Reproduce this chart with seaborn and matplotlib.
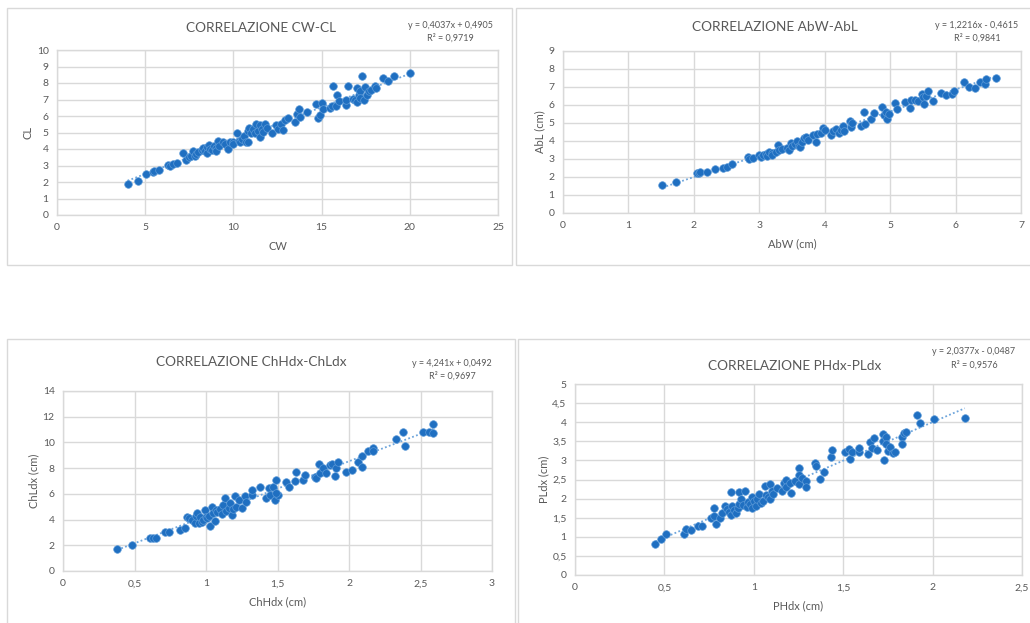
import matplotlib
matplotlib.use("Agg")
import matplotlib.pyplot as plt
from matplotlib.patches import Rectangle
from matplotlib.ticker import FuncFormatter, MultipleLocator
import seaborn as sns
import pandas as pd

# --- data ---
cw = [4.0, 4.6, 5.05, 5.45, 5.5, 5.8, 6.3, 6.4, 6.6, 6.8, 7.15, 7.3, 7.5, 7.6, 7.7, 7.8,
      7.9, 8.0, 8.2, 8.3, 8.4, 8.5, 8.5, 8.6, 8.7, 8.8, 8.9, 9.0, 9.0, 9.1, 9.2, 9.4,
      9.5, 9.7, 9.8, 10.0, 10.0, 10.2, 10.3, 10.4, 10.5, 10.6, 10.7, 10.8, 10.8, 10.9, 11.0, 11.1,
      11.2, 11.3, 11.4, 11.5, 11.5, 11.6, 11.7, 11.8, 11.9, 12.2, 12.4, 12.5, 12.7, 12.8,
      12.9, 13.1, 13.5, 13.6, 13.7, 13.8, 14.2, 14.7, 14.8, 14.9, 15.05, 15.1, 15.5, 15.6,
      15.65, 15.8, 15.85, 16.0, 16.4, 16.4, 16.5, 16.8, 16.9, 17.0, 17.0, 17.1, 17.2, 17.2,
      17.3, 17.4, 17.45, 17.6, 17.7, 17.8, 18.0, 18.1, 18.5, 18.75, 19.1, 20.0]
cl = [1.9, 2.05, 2.5, 2.6, 2.65, 2.75, 3.05, 2.95, 3.1, 3.15, 3.75, 3.35, 3.5, 3.6, 3.85, 3.55,
      3.7, 3.8, 3.95, 4.05, 3.9, 4.1, 3.75, 4.25, 4.0, 3.95, 4.2, 4.05, 3.85, 4.5, 4.2, 4.45,
      4.3, 4.0, 4.4, 4.45, 4.3, 4.95, 4.5, 4.45, 4.6, 4.8, 4.4, 4.45, 5.1, 5.3, 4.95, 5.2,
      5.0, 5.5, 5.1, 5.45, 4.7, 5.2, 5.05, 5.5, 5.3, 4.95, 5.45, 5.2, 5.5, 5.15,
      5.75, 5.9, 5.65, 6.1, 6.45, 5.95, 6.25, 6.75, 5.9, 6.05, 6.8, 6.4, 6.5, 6.6,
      7.8, 6.6, 7.25, 6.9, 6.65, 6.95, 7.8, 7.05, 7.0, 6.85, 7.7, 7.25, 7.5, 7.1,
      8.4, 7.0, 7.75, 7.3, 7.5, 7.6, 7.8, 7.7, 8.3, 8.1, 8.4, 8.6]

abw = [1.52, 1.73, 2.05, 2.08, 2.1, 2.2, 2.33, 2.45, 2.5, 2.58, 2.82, 2.85, 2.9, 3.0, 3.02, 3.05,
       3.1, 3.12, 3.15, 3.2, 3.2, 3.25, 3.28, 3.3, 3.35, 3.42, 3.45, 3.48, 3.5, 3.55, 3.58, 3.6,
       3.62, 3.65, 3.68, 3.72, 3.75, 3.82, 3.86, 3.88, 3.95, 3.98, 4.0, 4.1, 4.12, 4.18, 4.22, 4.25,
       4.28, 4.3, 4.38, 4.4, 4.42, 4.55, 4.6, 4.62, 4.7, 4.75, 4.88, 4.9, 4.93, 4.95, 4.98, 5.08,
       5.1, 5.22, 5.3, 5.32, 5.38, 5.42, 5.48, 5.5, 5.52, 5.55, 5.58, 5.65, 5.78, 5.85, 5.95, 5.97,
       6.13, 6.2, 6.3, 6.38, 6.45, 6.46, 6.62]
abl = [1.55, 1.72, 2.2, 2.25, 2.28, 2.3, 2.45, 2.5, 2.55, 2.75, 3.1, 3.0, 3.05, 3.25, 3.1, 3.2,
       3.3, 3.15, 3.4, 3.35, 3.25, 3.4, 3.8, 3.5, 3.55, 3.6, 3.5, 3.9, 3.7, 3.85, 4.0, 3.75,
       3.65, 3.95, 4.15, 4.25, 4.05, 4.35, 3.95, 4.4, 4.45, 4.7, 4.6, 4.35, 4.55, 4.65, 4.45, 4.6,
       4.85, 4.55, 5.1, 4.8, 5.0, 4.85, 5.6, 4.95, 5.2, 5.55, 5.9, 5.45, 5.6, 5.2, 5.5, 6.1,
       5.8, 6.15, 5.85, 6.3, 6.3, 6.2, 6.6, 6.45, 6.05, 6.5, 6.8, 6.25, 6.65, 6.55, 6.6, 6.8,
       7.3, 7.0, 6.95, 7.3, 7.15, 7.45, 7.5]

chhdx = [0.38, 0.48, 0.61, 0.63, 0.65, 0.71, 0.74, 0.82, 0.85, 0.87, 0.88, 0.9, 0.92, 0.93, 0.94, 0.95,
         0.96, 0.97, 0.98, 0.99, 1.0, 1.01, 1.02, 1.03, 1.04, 1.05, 1.06, 1.07, 1.08, 1.1, 1.11, 1.12,
         1.13, 1.14, 1.16, 1.17, 1.18, 1.19, 1.2, 1.21, 1.23, 1.25, 1.27, 1.28, 1.32, 1.32, 1.38, 1.42,
         1.44, 1.45, 1.47, 1.48, 1.49, 1.5, 1.49, 1.56, 1.58, 1.62, 1.63, 1.68, 1.69, 1.76, 1.77, 1.79,
         1.8, 1.82, 1.84, 1.87, 1.88, 1.9, 1.91, 1.92, 1.98, 2.02, 2.06, 2.09, 2.09, 2.13, 2.17, 2.17,
         2.33, 2.38, 2.39, 2.52, 2.56, 2.59, 2.59]
chldx = [1.75, 2.0, 2.55, 2.6, 2.6, 3.0, 3.05, 3.2, 3.35, 4.2, 4.15, 4.0, 3.75, 4.3, 4.5, 3.7,
         4.2, 3.85, 4.0, 4.75, 4.2, 4.1, 4.3, 3.5, 5.0, 4.55, 3.9, 4.75, 4.6, 4.8, 4.4, 5.1,
         5.65, 4.7, 4.9, 5.3, 4.35, 4.8, 5.8, 5.0, 5.5, 4.9, 5.8, 5.35, 5.9, 6.3, 6.55, 5.7,
         6.45, 5.9, 6.5, 5.5, 7.1, 5.9, 6.1, 6.9, 6.55, 7.0, 7.7, 7.1, 7.45, 7.35, 7.2, 8.35,
         7.65, 8.05, 7.6, 8.25, 8.35, 7.4, 8.05, 8.45, 7.7, 7.85, 8.5, 8.95, 8.1, 9.3, 9.6, 9.35,
         10.3, 10.8, 9.75, 10.8, 10.85, 11.45, 10.75]

phdx = [0.45, 0.48, 0.51, 0.61, 0.62, 0.65, 0.69, 0.71, 0.76, 0.78, 0.78, 0.79, 0.81, 0.82, 0.84, 0.85,
        0.86, 0.87, 0.87, 0.88, 0.89, 0.9, 0.91, 0.92, 0.92, 0.93, 0.94, 0.95, 0.96, 0.97, 0.98, 0.99,
        0.99, 1.0, 1.01, 1.02, 1.03, 1.04, 1.05, 1.06, 1.07, 1.08, 1.09, 1.09, 1.1, 1.11, 1.13, 1.16,
        1.17, 1.18, 1.18, 1.2, 1.21, 1.23, 1.25, 1.25, 1.25, 1.27, 1.29, 1.29, 1.34, 1.35, 1.37, 1.39,
        1.43, 1.44, 1.51, 1.53, 1.54, 1.55, 1.59, 1.59, 1.64, 1.65, 1.66, 1.67, 1.69, 1.72, 1.72, 1.73,
        1.74, 1.74, 1.75, 1.76, 1.78, 1.79, 1.83, 1.83, 1.84, 1.85, 1.91, 1.93, 2.01, 2.18]
pldx = [0.82, 0.93, 1.08, 1.08, 1.2, 1.18, 1.27, 1.27, 1.5, 1.55, 1.75, 1.33, 1.48, 1.62, 1.8, 1.72,
        1.65, 1.58, 2.18, 1.8, 1.7, 1.62, 1.75, 1.85, 2.18, 2.0, 1.82, 2.2, 1.78, 1.92, 1.85, 1.75,
        2.05, 1.95, 1.8, 2.0, 2.12, 1.88, 1.95, 2.32, 2.1, 2.05, 2.38, 2.0, 2.2, 2.12, 2.27, 2.2,
        2.4, 2.48, 2.3, 2.42, 2.15, 2.45, 2.8, 2.38, 2.62, 2.55, 2.45, 2.3, 2.92, 2.85, 2.52, 2.7,
        3.08, 3.27, 3.22, 3.3, 3.03, 3.22, 3.22, 3.33, 3.18, 3.48, 3.32, 3.58, 3.28, 3.68, 3.5, 3.0,
        3.62, 3.42, 3.25, 3.35, 3.2, 3.22, 3.6, 3.42, 3.72, 3.75, 4.2, 3.98, 4.08, 4.12]

titles = ["CORRELAZIONE CW-CL", "CORRELAZIONE AbW-AbL",
          "CORRELAZIONE ChHdx-ChLdx", "CORRELAZIONE PHdx-PLdx"]
xlabels = ["CW", "AbW (cm)", "ChHdx (cm)", "PHdx (cm)"]
ylabels = ["CL", "AbL (cm)", "ChLdx (cm)", "PLdx (cm)"]
equations = ["y = 0,4037x + 0,4905", "y = 1,2216x - 0,4615",
             "y = 4,241x + 0,0492", "y = 2,0377x - 0,0487"]
r2_labels = ["R² = 0,9719", "R² = 0,9841", "R² = 0,9697", "R² = 0,9576"]
xlims = [(0, 25), (0, 7), (0, 3), (0, 2.5)]
ylims = [(0, 10), (0, 9), (0, 14), (0, 5)]
xsteps = [5, 1, 0.5, 0.5]
ysteps = [1, 1, 2, 0.5]

series = [(cw, cl), (abw, abl), (chhdx, chldx), (phdx, pldx)]

# --- layout in pixels (width 1030, height 623) ---
W, H = 1030, 623
boxes = [(7, 8, 512, 265), (516, 8, 1032, 265), (7, 339, 515, 626), (518, 339, 1032, 626)]
plot_areas = [(57, 50, 498, 215), (563, 51, 1021, 213), (63, 391, 492, 571), (575, 384, 1022, 575)]
title_pos = [(261, 28), (775, 27), (251, 362), (795, 366)]
eq_pos = [(450, 26, 38), (977, 25, 38), (452, 363, 376), (974, 352, 365)]

GRID = "#d9d9d9"
TXT = "#595959"
DOT = "#1f6fc1"
TREND = "#6fa6dc"

sns.set_theme(style="white")
plt.rcParams["font.family"] = ["Lato", "DejaVu Sans"]

fig = plt.figure(figsize=(W / 100, H / 100), dpi=100)
fig.patch.set_facecolor("white")

comma = FuncFormatter(lambda v, p: f"{v:g}".replace(".", ","))

for i in range(4):
    x0, y0, x1, y1 = boxes[i]
    fig.add_artist(Rectangle((x0 / W, 1 - y1 / H), (x1 - x0) / W, (y1 - y0) / H,
                             transform=fig.transFigure, fill=False, ec=GRID, lw=1))

    l, t, r, b = plot_areas[i]
    ax = fig.add_axes([l / W, 1 - b / H, (r - l) / W, (b - t) / H])
    xs, ys = series[i]
    df = pd.DataFrame({"x": xs, "y": ys})

    sns.regplot(data=df, x="x", y="y", ax=ax, scatter=False, ci=None, truncate=True,
                line_kws=dict(color=TREND, ls=(0, (1, 1.3)), lw=1.3, zorder=2))
    sns.scatterplot(data=df, x="x", y="y", ax=ax, s=30, color=DOT,
                    edgecolor="#5c9ad8", linewidth=0.5, zorder=3)

    ax.set_xlim(*xlims[i])
    ax.set_ylim(*ylims[i])
    ax.xaxis.set_major_locator(MultipleLocator(xsteps[i]))
    ax.yaxis.set_major_locator(MultipleLocator(ysteps[i]))
    ax.xaxis.set_major_formatter(comma)
    ax.yaxis.set_major_formatter(comma)
    ax.grid(True, color=GRID, lw=1)
    ax.set_axisbelow(True)
    for sp in ax.spines.values():
        sp.set_color(GRID)
        sp.set_linewidth(1)
    ax.tick_params(length=0, labelsize=7.5, labelcolor=TXT, pad=6)
    ax.set_xlabel(xlabels[i], fontsize=8, color=TXT, labelpad=6)
    ax.set_ylabel(ylabels[i], fontsize=8, color=TXT, labelpad=2.5)

    tx, ty = title_pos[i]
    fig.text(tx / W, 1 - ty / H, titles[i], ha="center", va="center",
             fontsize=9.8, color=TXT)
    ex, ey1, ey2 = eq_pos[i]
    fig.text(ex / W, 1 - ey1 / H, equations[i], ha="center", va="center",
             fontsize=6.5, color=TXT)
    fig.text(ex / W, 1 - ey2 / H, r2_labels[i], ha="center", va="center",
             fontsize=6.5, color=TXT)

fig.savefig("out.png", dpi=100, facecolor="white")
